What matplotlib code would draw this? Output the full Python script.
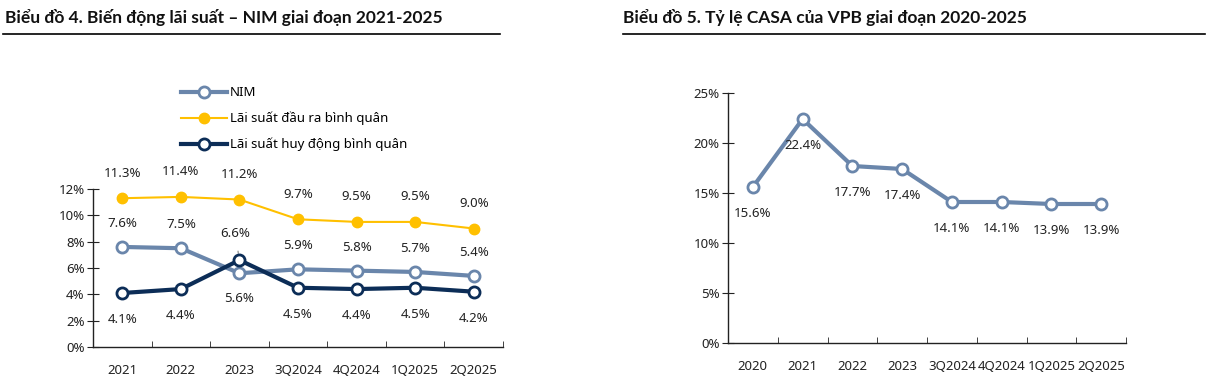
import matplotlib
matplotlib.use("Agg")
import matplotlib.pyplot as plt
from matplotlib.ticker import FuncFormatter

plt.rcParams['font.family'] = ['Noto Sans', 'DejaVu Sans']

# Chart 4 data
periods4 = ['2021', '2022', '2023', '3Q2024', '4Q2024', '1Q2025', '2Q2025']
nim = [7.6, 7.5, 5.6, 5.9, 5.8, 5.7, 5.4]
lai_dau_ra = [11.3, 11.4, 11.2, 9.7, 9.5, 9.5, 9.0]
lai_huy_dong = [4.1, 4.4, 6.6, 4.5, 4.4, 4.5, 4.2]

# Chart 5 data
periods5 = ['2020', '2021', '2022', '2023', '3Q2024', '4Q2024', '1Q2025', '2Q2025']
casa = [15.6, 22.4, 17.7, 17.4, 14.1, 14.1, 13.9, 13.9]

C_NIM = '#6a86ab'
C_YEL = '#ffc000'
C_NAVY = '#0c2d57'
TXT = '#222222'

W, H = 1206, 387
fig = plt.figure(figsize=(W / 100, H / 100), dpi=100)


def px(x0, y0, x1, y1):
    # pixel box (top-left origin) -> figure fraction
    return [x0 / W, 1 - y1 / H, (x1 - x0) / W, (y1 - y0) / H]


def style_axes(ax, n):
    for s in ['top', 'right']:
        ax.spines[s].set_visible(False)
    for s in ['left', 'bottom']:
        ax.spines[s].set_color('#222222')
        ax.spines[s].set_linewidth(1.0)
    ax.set_xlim(-0.5, n - 0.5)
    ax.set_xticks(range(n))
    ax.set_xticks([i + 0.5 for i in range(n - 1)] + [n - 0.5], minor=True)
    ax.tick_params(axis='x', which='major', length=0, pad=12, labelsize=9.5, colors=TXT)
    ax.tick_params(axis='x', which='minor', length=4, direction='in', color='#222222')
    ax.tick_params(axis='y', length=8, direction='inout', labelsize=9.5, colors=TXT, pad=2)
    ax.yaxis.set_major_formatter(FuncFormatter(lambda v, p: f'{v:.0f}%'))


# ---- titles
title_kw = dict(fontsize=12.5, fontweight='bold', family=['Lato', 'DejaVu Sans'],
                va='center', ha='left', color='#111111')
fig.text(5 / W, 1 - 18 / H, 'Biểu đồ 4. Biến động lãi suất – NIM giai đoạn 2021-2025', **title_kw)
fig.text(623 / W, 1 - 18 / H, 'Biểu đồ 5. Tỷ lệ CASA của VPB giai đoạn 2020-2025', **title_kw)
fig.add_artist(plt.Line2D([3 / W, 500 / W], [1 - 34 / H] * 2, color='black', lw=1.2))
fig.add_artist(plt.Line2D([623 / W, 1205 / W], [1 - 34 / H] * 2, color='black', lw=1.2))

# ---- chart 4
ax1 = fig.add_axes(px(93, 189, 503, 347))
style_axes(ax1, len(periods4))
ax1.set_ylim(0, 12)
ax1.set_yticks(range(0, 13, 2))
x4 = range(len(periods4))
ax1.set_xticklabels(periods4)

l_nim, = ax1.plot(x4, nim, color=C_NIM, lw=3, marker='o', ms=8, mfc='white',
                  mec=C_NIM, mew=2, clip_on=False, zorder=3, label='NIM')
l_yel, = ax1.plot(x4, lai_dau_ra, color=C_YEL, lw=1.5, marker='o', ms=7.5, mfc=C_YEL,
                  mec=C_YEL, clip_on=False, zorder=3, label='Lãi suất đầu ra bình quân')
l_navy, = ax1.plot(x4, lai_huy_dong, color=C_NAVY, lw=3, marker='o', ms=8, mfc='white',
                   mec=C_NAVY, mew=2, clip_on=False, zorder=4, label='Lãi suất huy động bình quân')

lab_kw = dict(fontsize=9.5, color=TXT, ha='center', va='center', textcoords='offset points')
for i, v in enumerate(lai_dau_ra):
    ax1.annotate(f'{v:.1f}%', (i, v), xytext=(0, 18), **lab_kw)
for i, v in enumerate(nim):
    off = -18 if i == 2 else 17
    ax1.annotate(f'{v:.1f}%', (i, v), xytext=(0, off), **lab_kw)
for i, v in enumerate(lai_huy_dong):
    if i == 2:
        ax1.annotate(f'{v:.1f}%', (i, v), xytext=(-3, 19),
                     arrowprops=dict(arrowstyle='-', color='#999999', lw=1,
                                     shrinkA=6, shrinkB=5), **lab_kw)
    else:
        ax1.annotate(f'{v:.1f}%', (i, v), xytext=(0, -19), **lab_kw)

ax1.legend(handles=[l_nim, l_yel, l_navy], loc='upper left',
           bbox_to_anchor=(176 / W, 1 - 81 / H), bbox_transform=fig.transFigure,
           frameon=False, fontsize=9.5, handlelength=3.5, handletextpad=0.2,
           labelspacing=0.95, borderaxespad=0)

# ---- chart 5
ax2 = fig.add_axes(px(728, 93, 1126, 343))
style_axes(ax2, len(periods5))
ax2.set_ylim(0, 25)
ax2.set_yticks(range(0, 26, 5))
x5 = range(len(periods5))
ax2.set_xticklabels(periods5)
ax2.plot(x5, casa, color=C_NIM, lw=3, marker='o', ms=8, mfc='white', mec=C_NIM,
         mew=2, clip_on=False, zorder=3)
for i, v in enumerate(casa):
    ax2.annotate(f'{v:.1f}%', (i, v), xytext=(0, -19), **lab_kw)

fig.savefig('out.png', dpi=100)
